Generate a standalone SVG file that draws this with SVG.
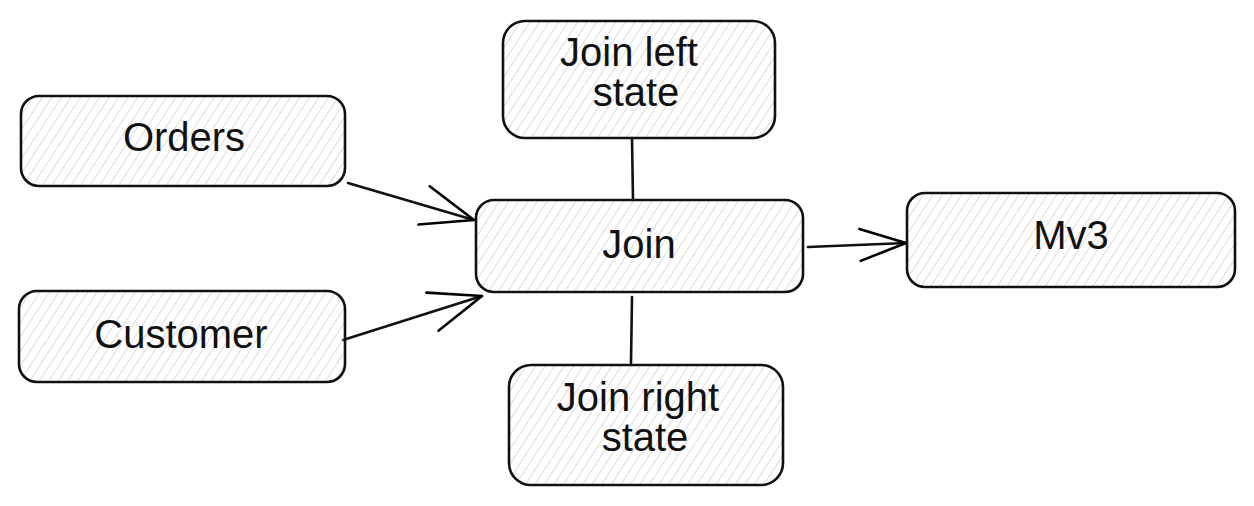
<svg xmlns="http://www.w3.org/2000/svg" width="1254" height="506" viewBox="0 0 1254 506">
<defs>
<pattern id="hatch" patternUnits="userSpaceOnUse" width="8" height="8" patternTransform="rotate(33)">
<line x1="0" y1="0" x2="0" y2="8" stroke="#cbcbcb" stroke-width="1.4"/>
</pattern>
<marker id="arrowL" markerUnits="userSpaceOnUse" viewBox="0 0 56 44" markerWidth="56" markerHeight="44" refX="54" refY="22" orient="auto">
<path d="M2,2 L54,22 L2,42" fill="none" stroke="#000" stroke-width="2.6" stroke-linecap="round" stroke-linejoin="round"/>
</marker>
<marker id="arrowS" markerUnits="userSpaceOnUse" viewBox="0 0 50 36" markerWidth="50" markerHeight="36" refX="48" refY="18" orient="auto">
<path d="M2,2 L48,18 L2,34" fill="none" stroke="#000" stroke-width="2.6" stroke-linecap="round" stroke-linejoin="round"/>
</marker>
</defs>
<style>
.box{fill:url(#hatch);stroke:#111;stroke-width:2.6}
.lbl{font-family:"Liberation Sans",Arial,sans-serif;font-size:40px;fill:#111;text-anchor:middle}
.conn{stroke:#111;stroke-width:2.6;fill:none;stroke-linecap:round}
</style>
<rect width="1254" height="506" fill="#fff"/>
<g id="connectors">
<line class="conn" x1="348" y1="183" x2="474" y2="220" marker-end="url(#arrowL)"/>
<line class="conn" x1="343" y1="340" x2="482" y2="296" marker-end="url(#arrowL)"/>
<line class="conn" x1="808" y1="247" x2="906" y2="243" marker-end="url(#arrowS)"/>
<line class="conn" x1="632" y1="138" x2="633" y2="200"/>
<line class="conn" x1="632" y1="297" x2="631" y2="363"/>
</g>
<g id="orders">
<rect class="box" x="21" y="96" width="324" height="90" rx="18"/>
<text class="lbl" x="184" y="151">Orders</text>
</g>
<g id="customer">
<rect class="box" x="19" y="291" width="326" height="91" rx="18"/>
<text class="lbl" x="181" y="348">Customer</text>
</g>
<g id="join">
<rect class="box" x="476" y="200" width="327" height="92" rx="18"/>
<text class="lbl" x="639" y="258">Join</text>
</g>
<g id="join-left-state">
<rect class="box" x="503" y="21" width="272" height="117" rx="22"/>
<text class="lbl" x="629" y="66">Join left</text>
<text class="lbl" x="636" y="106">state</text>
</g>
<g id="join-right-state">
<rect class="box" x="509" y="365" width="274" height="120" rx="22"/>
<text class="lbl" x="638" y="411">Join right</text>
<text class="lbl" x="645" y="451">state</text>
</g>
<g id="mv3">
<rect class="box" x="907" y="193" width="328" height="94" rx="18"/>
<text class="lbl" x="1071" y="249">Mv3</text>
</g>
</svg>
